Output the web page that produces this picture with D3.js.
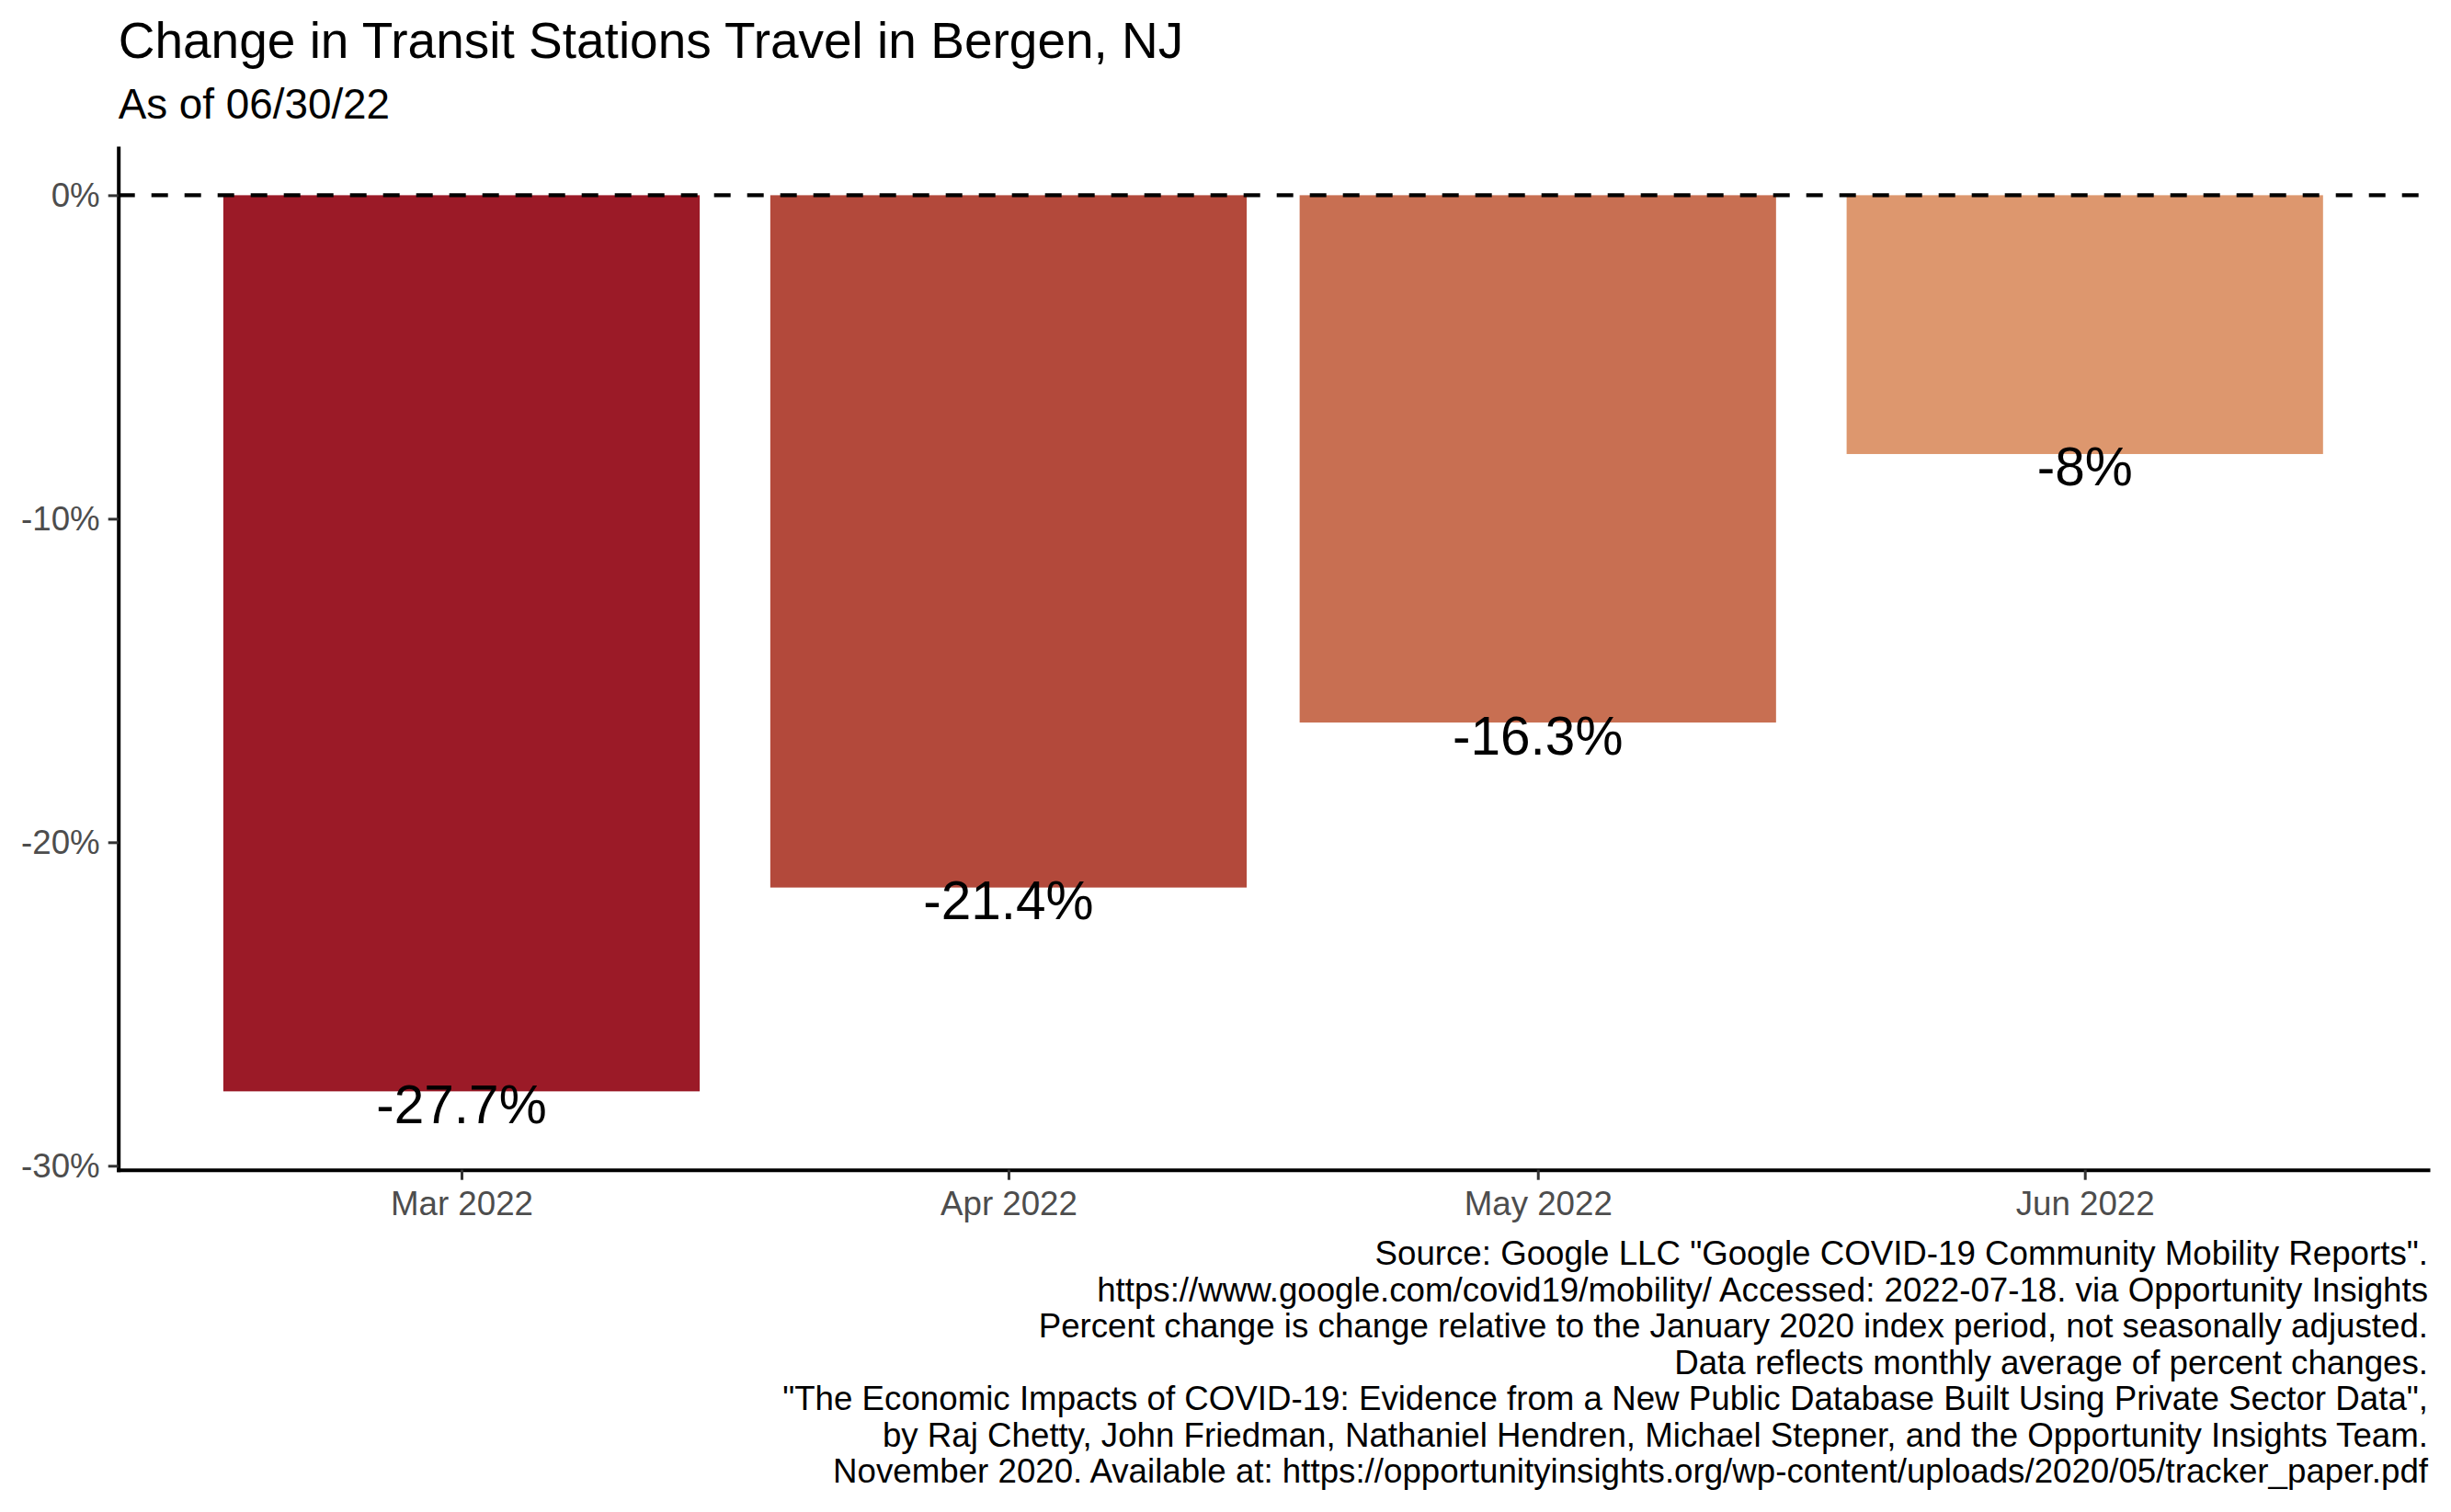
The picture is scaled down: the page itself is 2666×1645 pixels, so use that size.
<!DOCTYPE html>
<html>
<head>
<meta charset="utf-8">
<script src="https://cdn.jsdelivr.net/npm/d3@7"></script>
<style>
  html, body { margin: 0; padding: 0; background: #ffffff; }
  svg { display: block; font-family: "Liberation Sans", Arial, Helvetica, sans-serif; }
</style>
</head>
<body>
<svg id="chart" width="2666" height="1645"></svg>
<script>
// ---- data ----
const months = ["2022-03-01", "2022-04-01", "2022-05-01", "2022-06-01"];
const values = [-27.7, -21.4, -16.3, -8.0];
const barColors = ["#9B1A27", "#B3493B", "#C86F52", "#DD976E"];
const yTicks = [0, -10, -20, -30];
const titleText = "Change in Transit Stations Travel in Bergen, NJ";
const subtitleText = "As of 06/30/22";
const captionLines = [
  "Source: Google LLC \"Google COVID-19 Community Mobility Reports\".",
  "https://www.google.com/covid19/mobility/ Accessed: 2022-07-18. via Opportunity Insights",
  "Percent change is change relative to the January 2020 index period, not seasonally adjusted.",
  "Data reflects monthly average of percent changes.",
  "\"The Economic Impacts of COVID-19: Evidence from a New Public Database Built Using Private Sector Data\",",
  "by Raj Chetty, John Friedman, Nathaniel Hendren, Michael Stepner, and the Opportunity Insights Team.",
  "November 2020. Available at: https://opportunityinsights.org/wp-content/uploads/2020/05/tracker_paper.pdf"
];

// ---- layout ----
const panel = { left: 128.7, right: 2641, top: 161, bottom: 1272.7 };
const DAY = 86400000;
const dates = months.map(d => new Date(d + "T00:00:00Z"));
const barDays = 27; // 0.9 * 30-day resolution
const half = barDays / 2 * DAY;
const xMin = +dates[0] - half, xMax = +dates[dates.length - 1] + half;
const pad = (xMax - xMin) * 0.05;

const x = d3.scaleUtc()
  .domain([new Date(xMin - pad), new Date(xMax + pad)])
  .range([panel.left, panel.right]);

const y = d3.scaleLinear()
  .domain([-30.125, 1.46])
  .range([panel.bottom, panel.top]);

const svg = d3.select("#chart");
svg.append("rect").attr("width", 2666).attr("height", 1645).attr("fill", "#ffffff");

const data = dates.map((d, i) => ({ date: d, value: values[i], color: barColors[i] }));

// bars
svg.append("g").selectAll("rect")
  .data(data)
  .join("rect")
  .attr("x", d => x(new Date(+d.date - half)))
  .attr("width", d => x(new Date(+d.date + half)) - x(new Date(+d.date - half)))
  .attr("y", d => y(Math.max(0, d.value)))
  .attr("height", d => Math.abs(y(d.value) - y(0)))
  .attr("fill", d => d.color);

// dashed zero line
svg.append("line")
  .attr("x1", panel.left).attr("x2", panel.right)
  .attr("y1", y(0)).attr("y2", y(0))
  .attr("stroke", "#000").attr("stroke-width", 4.3)
  .attr("stroke-dasharray", "18,18");

// value labels
svg.append("g").selectAll("text")
  .data(data)
  .join("text")
  .attr("x", d => x(d.date))
  .attr("y", d => y(d.value) + 34.5)
  .attr("text-anchor", "middle")
  .attr("font-size", 58.5)
  .attr("fill", "#000")
  .text(d => `${+d.value.toFixed(1)}%`);

// axes
const yAxis = d3.axisLeft(y)
  .tickValues(yTicks)
  .tickFormat(d => d + "%")
  .tickSize(11).tickSizeOuter(0).tickPadding(9);

const gy = svg.append("g")
  .attr("transform", `translate(${panel.left},0)`)
  .call(yAxis);

const xAxis = d3.axisBottom(x)
  .tickValues(dates)
  .tickFormat(d3.utcFormat("%b %Y"))
  .tickSize(11).tickSizeOuter(0).tickPadding(12);

const gx = svg.append("g")
  .attr("transform", `translate(0,${panel.bottom})`)
  .call(xAxis);

[gx, gy].forEach(g => {
  g.select(".domain").attr("stroke", "#000").attr("stroke-width", 4).attr("stroke-linecap", "square");
  g.selectAll(".tick line").attr("stroke", "#333333").attr("stroke-width", 3);
  g.selectAll(".tick text")
    .attr("font-size", 36.7)
    .attr("fill", "#4D4D4D")
    .attr("font-family", "\"Liberation Sans\", Arial, Helvetica, sans-serif");
});

// titles
svg.append("text")
  .attr("x", panel.left).attr("y", 63)
  .attr("font-size", 55).attr("fill", "#000")
  .text(titleText);

svg.append("text")
  .attr("x", panel.left).attr("y", 129)
  .attr("font-size", 45.8).attr("fill", "#000")
  .text(subtitleText);

// caption
svg.append("g").selectAll("text")
  .data(captionLines)
  .join("text")
  .attr("x", panel.right)
  .attr("y", (d, i) => 1376 + i * 39.5)
  .attr("text-anchor", "end")
  .attr("font-size", 36.7)
  .attr("fill", "#000")
  .text(d => d);
</script>
</body>
</html>
